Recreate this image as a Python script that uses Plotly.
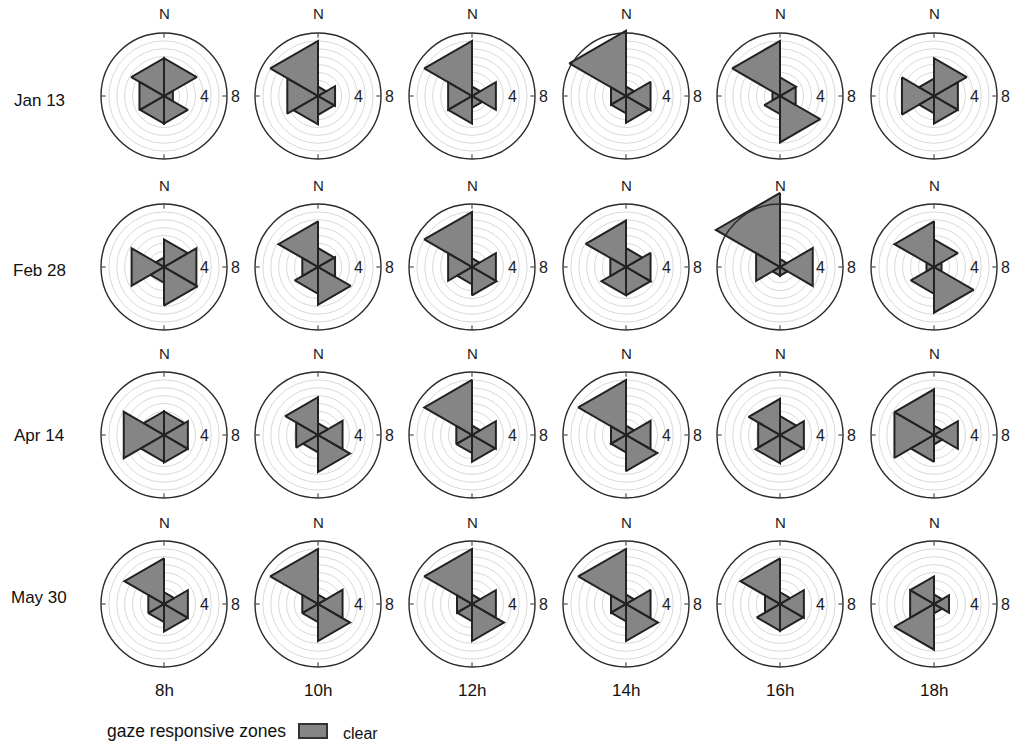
import plotly.graph_objects as go

# Sector layout: six 60-degree sectors, starting at north and going clockwise
sector_start = [0, 60, 120, 180, 240, 300]
sector_width = 60

dates = ["Jan 13", "Feb 28", "Apr 14", "May 30"]
hours = ["8h", "10h", "12h", "14h", "16h", "18h"]

# zone values per date, per hour (six sectors each, clockwise from north)
jan13 = [
    [4.8, 1.3, 3.5, 3.5, 3.6, 4.8],
    [1.2, 2.5, 2.4, 3.6, 4.5, 7.0],
    [1.2, 3.5, 1.5, 3.5, 3.5, 7.0],
    [1.2, 3.6, 3.4, 2.2, 2.2, 8.3],
    [2.35, 2.3, 5.9, 2.3, 1.1, 7.0],
    [4.8, 3.5, 3.5, 2.2, 4.7, 2.2],
]
feb28 = [
    [3.5, 4.75, 4.9, 2.0, 4.75, 1.2],
    [2.4, 2.5, 4.8, 3.4, 2.3, 5.8],
    [1.1, 3.5, 3.6, 2.2, 3.5, 7.0],
    [2.4, 3.6, 3.6, 3.6, 2.3, 5.9],
    [1.0, 4.8, 1.1, 1.1, 3.5, 9.4],
    [3.5, 1.1, 5.8, 3.4, 1.1, 5.8],
]
apr14 = [
    [3.0, 3.5, 3.5, 3.4, 5.9, 3.0],
    [1.5, 3.6, 4.7, 2.2, 3.2, 4.8],
    [1.2, 3.5, 3.4, 2.3, 2.3, 7.0],
    [1.2, 3.6, 4.6, 2.2, 2.2, 7.0],
    [2.4, 3.5, 3.4, 3.6, 3.2, 4.6],
    [1.2, 3.5, 1.2, 3.4, 5.8, 5.8],
]
may30 = [
    [1.5, 3.5, 3.5, 2.3, 2.3, 5.8],
    [1.2, 3.6, 4.7, 2.3, 2.3, 7.0],
    [1.2, 3.5, 4.7, 2.2, 2.2, 7.0],
    [1.2, 3.6, 4.7, 2.2, 2.2, 7.0],
    [1.5, 3.5, 3.4, 3.4, 2.2, 5.8],
    [1.2, 2.2, 1.2, 5.8, 3.5, 3.5],
]
values = [jan13, feb28, apr14, may30]

radial_max = 8
radial_labels = [4, 8]
north_label = "N"
legend_title = "gaze responsive zones"
series_name = "clear"

# ---- page geometry (pixels) ----
W, H = 1013, 744
R = 63                      # radius of the framed circle
col_x = [164 + 154 * j for j in range(6)]
row_y = [96, 267, 435, 604]
row_label_y = [100, 270, 435, 597]
data_scale = 10 / radial_max  # data subplot extends past the frame so marks are not clipped

FILL = "#858585"
EDGE = "#222222"
FONT = "Liberation Sans, Arial, sans-serif"

fig = go.Figure()
layout = {}
annotations = []


def dom(cx, cy, r):
    return dict(x=[(cx - r) / W, (cx + r) / W], y=[1 - (cy + r) / H, 1 - (cy - r) / H])


def text_at(x, y, text, size, xanchor="center", color="#111"):
    return dict(x=x / W, y=1 - y / H, xref="paper", yref="paper",
                xanchor=xanchor, yanchor="middle", text=text, showarrow=False,
                font=dict(size=size, color=color, family=FONT))


n = len(dates) * len(hours)
k = 0
for i, date in enumerate(dates):
    for j, hour in enumerate(hours):
        k += 1
        cx, cy = col_x[j], row_y[i]
        data_id = "polar" if k == 1 else f"polar{k}"
        frame_id = f"polar{k + n}"

        r_pts, t_pts = [], []
        for start, v in zip(sector_start, values[i][j]):
            r_pts += [0, v, v, 0, None]
            t_pts += [start, start, start + sector_width, start, None]

        fig.add_trace(go.Scatterpolar(
            r=r_pts, theta=t_pts, mode="lines", fill="toself",
            fillcolor=FILL, line=dict(color=EDGE, width=2),
            connectgaps=False, subplot=data_id, name=series_name,
            showlegend=False, hoverinfo="skip",
        ))
        # empty trace so the frame subplot (outer circle and its ticks) gets drawn
        fig.add_trace(go.Scatterpolar(
            r=[0], theta=[0], mode="markers", marker=dict(opacity=0),
            subplot=frame_id, showlegend=False, hoverinfo="skip",
        ))

        layout[data_id] = dict(
            domain=dom(cx, cy, R * data_scale),
            bgcolor="rgba(0,0,0,0)",
            radialaxis=dict(range=[0, radial_max * data_scale],
                            tickvals=list(range(1, radial_max)),
                            showticklabels=False, ticks="", showline=False,
                            gridcolor="#d9d9d9", gridwidth=1),
            angularaxis=dict(rotation=90, direction="clockwise",
                             showgrid=False, showline=False,
                             showticklabels=False, ticks=""),
        )
        layout[frame_id] = dict(
            domain=dom(cx, cy, R),
            bgcolor="rgba(0,0,0,0)",
            radialaxis=dict(range=[0, radial_max], showgrid=False,
                            showticklabels=False, ticks="", showline=False),
            angularaxis=dict(rotation=90, direction="clockwise",
                             showgrid=False, showline=True,
                             linecolor="#2b2b2b", linewidth=1.4,
                             tickmode="array", tickvals=[0, 90, 180, 270],
                             showticklabels=False,
                             ticks="inside", ticklen=4, tickcolor="#2b2b2b"),
        )
        annotations.append(text_at(cx, cy - 82, north_label, 15, color="#222"))
        for lab in radial_labels:
            annotations.append(text_at(cx + lab * R / radial_max + 2, cy, str(lab), 16,
                                       xanchor="left", color="#222"))

for i, date in enumerate(dates):
    annotations.append(text_at(39, row_label_y[i], date, 17))
for j, hour in enumerate(hours):
    annotations.append(text_at(col_x[j], 690, hour, 17))

# legend: title, key swatch, series name
annotations.append(text_at(105, 731, legend_title, 17.5, xanchor="left"))
annotations.append(text_at(341, 733, series_name, 16, xanchor="left"))
legend_key = dict(type="rect", xref="paper", yref="paper",
                  x0=299 / W, x1=327 / W, y0=1 - 738 / H, y1=1 - 724 / H,
                  fillcolor=FILL, line=dict(color="#333", width=2))

fig.update_layout(
    width=W, height=H,
    margin=dict(l=0, r=0, t=0, b=0),
    paper_bgcolor="white",
    font=dict(family=FONT, color="#111"),
    annotations=annotations,
    shapes=[legend_key],
    showlegend=False,
    **layout,
)

fig.write_html("out.html")
